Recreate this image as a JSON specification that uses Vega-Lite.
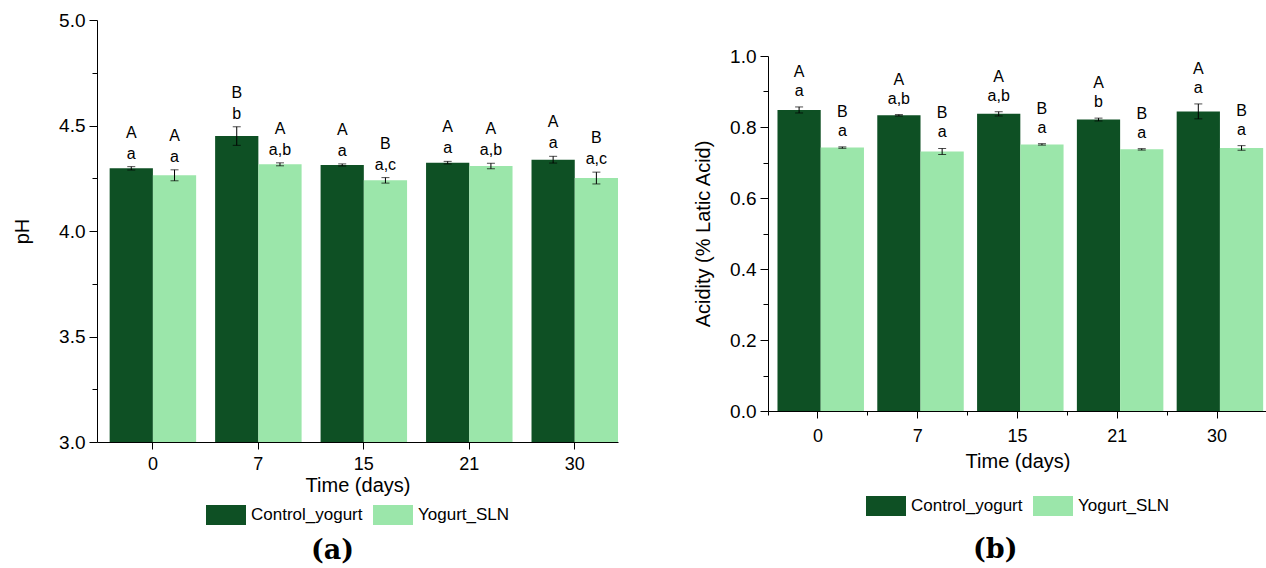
{
  "$schema": "https://vega.github.io/schema/vega-lite/v6.json",
  "background": "white",
  "padding": {"left": 12, "top": 11, "right": 0, "bottom": 0},
  "spacing": 75,
  "resolve": {"scale": {"color": "independent"}, "legend": {"color": "independent"}},
  "config": {
    "view": {"stroke": null},
    "font": "Liberation Sans",
    "axis": {"labelFont": "Liberation Sans", "labelFontSize": 18, "labelColor": "black", "titleFont": "Liberation Sans", "titleFontSize": 20, "titleFontWeight": "normal", "titleColor": "black", "domainColor": "black", "tickColor": "black", "grid": false, "tickSize": 7, "domainWidth": 1, "tickWidth": 1},
    "axisY": {"labelFontSize": 19, "tickSize": 8, "labelPadding": 4},
    "legend": {"orient": "bottom", "direction": "horizontal", "labelFont": "Liberation Sans", "labelFontSize": 17, "labelColor": "black", "symbolType": "M-1,-0.5L1,-0.5L1,0.5L-1,0.5Z", "symbolSize": 1600, "symbolStrokeWidth": 0, "columnPadding": 10, "labelOffset": 5, "layout": {"bottom": {"anchor": "middle"}}},
    "title": {"font": "DejaVu Serif", "fontSize": 27, "fontWeight": "bold", "color": "black"},
    "text": {"font": "Liberation Sans", "fontSize": 16, "color": "black", "baseline": "bottom"}
  },
  "hconcat": [
    {
      "width": 521,
      "height": 422,
      "title": {"text": "(a)", "orient": "bottom", "anchor": "middle", "offset": 13, "dx": -25},
      "data": {"values": [
        {"day": 0, "group": "Control_yogurt", "mean": 4.297, "lo": 4.289, "hi": 4.305, "upper": "A", "lower": "a"},
        {"day": 0, "group": "Yogurt_SLN", "mean": 4.264, "lo": 4.238, "hi": 4.29, "upper": "A", "lower": "a"},
        {"day": 7, "group": "Control_yogurt", "mean": 4.45, "lo": 4.406, "hi": 4.494, "upper": "B", "lower": "b"},
        {"day": 7, "group": "Yogurt_SLN", "mean": 4.316, "lo": 4.309, "hi": 4.323, "upper": "A", "lower": "a,b"},
        {"day": 15, "group": "Control_yogurt", "mean": 4.313, "lo": 4.308, "hi": 4.318, "upper": "A", "lower": "a"},
        {"day": 15, "group": "Yogurt_SLN", "mean": 4.24, "lo": 4.227, "hi": 4.253, "upper": "B", "lower": "a,c"},
        {"day": 21, "group": "Control_yogurt", "mean": 4.324, "lo": 4.318, "hi": 4.33, "upper": "A", "lower": "a"},
        {"day": 21, "group": "Yogurt_SLN", "mean": 4.308, "lo": 4.295, "hi": 4.321, "upper": "A", "lower": "a,b"},
        {"day": 30, "group": "Control_yogurt", "mean": 4.338, "lo": 4.322, "hi": 4.354, "upper": "A", "lower": "a"},
        {"day": 30, "group": "Yogurt_SLN", "mean": 4.251, "lo": 4.223, "hi": 4.279, "upper": "B", "lower": "a,c"}
      ]},
      "encoding": {
        "x": {"field": "day", "type": "ordinal", "scale": {"paddingInner": 0.18, "paddingOuter": 0.06, "align": 1}, "axis": {"title": "Time (days)", "orient": "bottom", "labelAngle": 0, "labelPadding": 6, "titlePadding": 2}},
        "xOffset": {"field": "group", "type": "nominal", "scale": {"paddingInner": 0, "paddingOuter": 0}}
      },
      "layer": [
        {"mark": {"type": "bar"}, "encoding": {
          "y": {"field": "mean", "type": "quantitative", "scale": {"domain": [3, 5], "zero": false, "nice": false}, "axis": {"title": "pH", "orient": "left", "values": [3, 3.5, 4, 4.5, 5], "format": ".1f", "titlePadding": 26}},
          "y2": {"datum": 3},
          "color": {"field": "group", "type": "nominal", "scale": {"domain": ["Control_yogurt", "Yogurt_SLN"], "range": ["#0e5024", "#9be6aa"]}, "legend": {"title": null, "offset": 0}}
        }},
        {"mark": {"type": "rule", "color": "black", "strokeWidth": 1}, "encoding": {
          "y": {"field": "lo", "type": "quantitative", "axis": {"orient": "left", "values": [3.25, 3.75, 4.25, 4.75], "labels": false, "domain": false, "tickSize": 5, "title": null}},
          "y2": {"field": "hi"}
        }},
        {"mark": {"type": "tick", "color": "black", "size": 8, "thickness": 1}, "encoding": {"y": {"field": "lo", "type": "quantitative", "axis": null}}},
        {"mark": {"type": "tick", "color": "black", "size": 8, "thickness": 1}, "encoding": {"y": {"field": "hi", "type": "quantitative", "axis": null}}},
        {"mark": {"type": "text", "dy": -5}, "encoding": {
          "y": {"field": "hi", "type": "quantitative", "axis": null},
          "text": {"field": "lower"}
        }},
        {"mark": {"type": "text", "dy": -26}, "encoding": {
          "y": {"field": "hi", "type": "quantitative", "axis": null},
          "text": {"field": "upper"}
        }}
      ],
      "resolve": {"axis": {"y": "independent"}}
    },
    {
      "title": {"text": "(b)", "orient": "bottom", "anchor": "middle", "offset": 21, "dx": 15},
      "spacing": 0,
      "resolve": {"scale": {"color": "independent"}, "legend": {"color": "independent"}},
      "vconcat": [
        {
          "width": 499,
          "height": 27,
          "data": {"values": []},
          "mark": {"type": "text"},
          "encoding": {}
        },
        {
          "width": 499,
          "height": 355,
          "data": {"values": [
            {"day": 0, "group": "Control_yogurt", "mean": 0.848, "lo": 0.8395, "hi": 0.8565, "upper": "A", "lower": "a"},
            {"day": 0, "group": "Yogurt_SLN", "mean": 0.742, "lo": 0.740, "hi": 0.744, "upper": "B", "lower": "a"},
            {"day": 7, "group": "Control_yogurt", "mean": 0.833, "lo": 0.831, "hi": 0.835, "upper": "A", "lower": "a,b"},
            {"day": 7, "group": "Yogurt_SLN", "mean": 0.731, "lo": 0.7225, "hi": 0.7395, "upper": "B", "lower": "a"},
            {"day": 15, "group": "Control_yogurt", "mean": 0.837, "lo": 0.831, "hi": 0.843, "upper": "A", "lower": "a,b"},
            {"day": 15, "group": "Yogurt_SLN", "mean": 0.751, "lo": 0.749, "hi": 0.753, "upper": "B", "lower": "a"},
            {"day": 21, "group": "Control_yogurt", "mean": 0.821, "lo": 0.817, "hi": 0.825, "upper": "A", "lower": "b"},
            {"day": 21, "group": "Yogurt_SLN", "mean": 0.737, "lo": 0.735, "hi": 0.739, "upper": "B", "lower": "a"},
            {"day": 30, "group": "Control_yogurt", "mean": 0.844, "lo": 0.823, "hi": 0.865, "upper": "A", "lower": "a"},
            {"day": 30, "group": "Yogurt_SLN", "mean": 0.741, "lo": 0.7345, "hi": 0.7475, "upper": "B", "lower": "a"}
          ]},
          "encoding": {
            "x": {"field": "day", "type": "ordinal", "scale": {"paddingInner": 0.19, "paddingOuter": 0.095}, "axis": null},
            "xOffset": {"field": "group", "type": "nominal", "scale": {"paddingInner": 0, "paddingOuter": 0}}
          },
          "layer": [
            {"mark": {"type": "bar"}, "encoding": {
              "x": {"field": "day", "type": "ordinal", "axis": {"title": "Time (days)", "orient": "bottom", "labelAngle": 0, "labelPadding": 9, "titlePadding": 6}},
              "y": {"field": "mean", "type": "quantitative", "scale": {"domain": [0, 1], "nice": false}, "axis": {"title": "Acidity (% Latic Acid)", "orient": "left", "values": [0, 0.2, 0.4, 0.6, 0.8, 1.0], "format": ".1f", "titlePadding": 16}},
              "color": {"field": "group", "type": "nominal", "scale": {"domain": ["Control_yogurt", "Yogurt_SLN"], "range": ["#0e5024", "#9be6aa"]}, "legend": {"title": null, "offset": 15}}
            }},
            {"mark": {"type": "rule", "color": "black", "strokeWidth": 1}, "encoding": {
              "x": {"field": "day", "type": "ordinal", "axis": {"orient": "bottom", "bandPosition": -0.117, "labels": false, "domain": false, "tickSize": 4, "title": null}},
              "y": {"field": "lo", "type": "quantitative", "axis": {"orient": "left", "values": [0.1, 0.3, 0.5, 0.7, 0.9], "labels": false, "domain": false, "tickSize": 5, "title": null}},
              "y2": {"field": "hi"}
            }},
            {"mark": {"type": "tick", "color": "black", "size": 8, "thickness": 1}, "encoding": {"y": {"field": "lo", "type": "quantitative", "axis": null}}},
            {"mark": {"type": "tick", "color": "black", "size": 8, "thickness": 1}, "encoding": {"y": {"field": "hi", "type": "quantitative", "axis": null}}},
            {"mark": {"type": "text", "dy": -8}, "encoding": {
              "y": {"field": "hi", "type": "quantitative", "axis": null},
              "text": {"field": "lower"}
            }},
            {"mark": {"type": "text", "dy": -27}, "encoding": {
              "y": {"field": "hi", "type": "quantitative", "axis": null},
              "text": {"field": "upper"}
            }}
          ],
          "resolve": {"axis": {"y": "independent", "x": "independent"}}
        }
      ]
    }
  ]
}
